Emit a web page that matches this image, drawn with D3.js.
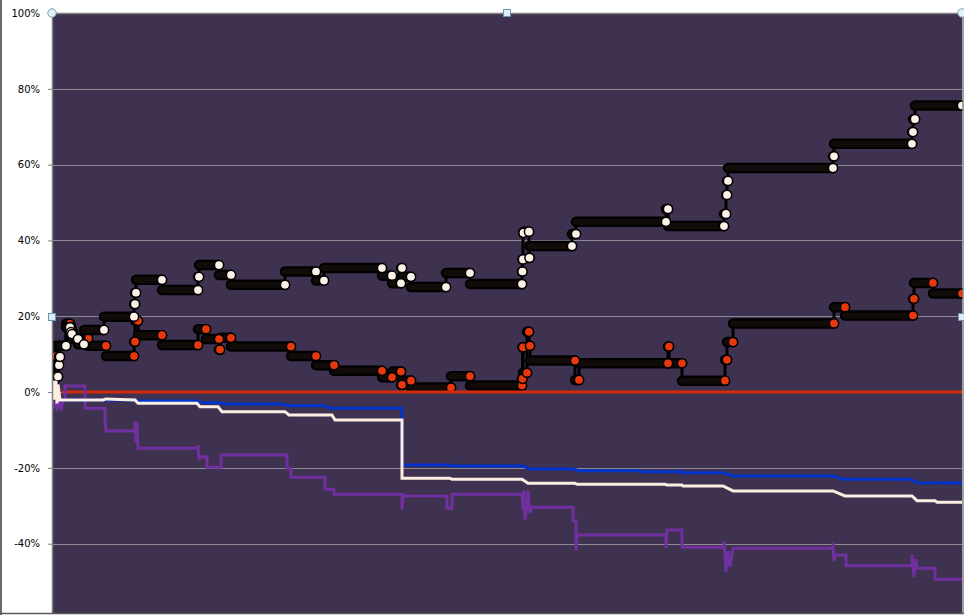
<!DOCTYPE html>
<html><head><meta charset="utf-8">
<script src="https://cdn.jsdelivr.net/npm/d3@7"></script>
<style>html,body{margin:0;padding:0;background:#fff;overflow:hidden}</style>
</head><body>
<svg id="c" width="964" height="615"></svg>
<script>
// ---- data (x = time index 0..910, y = percent) ----
const yTicks = [100, 80, 60, 40, 20, 0, -20, -40];
const xEnd = 910;

// step series with markers: [start, level]
const whiteSteps = [[0,0],[1,4.1],[6,7.1],[7,9.3],[8,12.2],[14,17.1],[18,15.8],[19,15.3],[20,14.0],[26,12.6],[32,16.4],[52,19.9],[82,23.2],[83,26.2],[84,29.6],[110,26.9],[146,30.4],[147,33.5],[167,30.9],[179,28.3],[233,31.8],[264,29.4],[272,32.7],[330,30.7],[340,28.7],[349,32.7],[350,30.4],[359,27.7],[394,31.4],[418,28.5],[470,31.8],[470.5,35.0],[471,42.0],[471.5,42.3],[477,35.4],[477.5,38.5],[520,41.7],[524,44.9],[614,48.3],[616,43.8],[672,47.0],[674,52.0],[675,55.7],[676,59.1],[781,62.2],[782,65.5],[860,68.6],[861,72.0],[863,75.6]];
const redSteps = [[0,0],[1,3],[2,9.5],[4,12.2],[14,18.0],[18,17.2],[19,16.3],[20,15.5],[21,14.2],[36,12.2],[54,9.5],[82,13.3],[83,18.8],[86,15.0],[110,12.4],[146,16.6],[154,14.0],[167,11.2],[168,14.3],[179,12.0],[239,9.5],[264,7.1],[282,5.6],[330,3.9],[340,5.4],[349,1.9],[350,3.0],[359,1.2],[399,4.2],[418,1.7],[470,3.5],[470.5,11.8],[471,5.1],[475,15.9],[477,12.2],[478,8.3],[523,3.2],[527,7.6],[616,12.0],[617,7.6],[630,3.0],[673,8.5],[675,13.2],[681,18.1],[782,22.4],[793,20.2],[861,24.6],[862,28.8],[881,26.0]];

// plain lines: [x, value]
const blueLine = [[0,0],[4,-1.5],[8,-2.1],[83,-2.1],[86,-2.35],[145,-2.35],[147,-2.8],[168,-2.8],[171,-3.14],[232,-3.14],[235,-3.59],[272,-3.59],[278,-4.27],[350,-4.27],[350,-19.23],[398,-19.23],[400,-19.49],[471,-19.49],[477,-20.28],[521,-20.28],[527,-20.73],[588,-20.73],[590,-21.0],[630,-21.0],[631,-21.26],[671,-21.26],[681,-22.13],[781,-22.13],[791,-23.0],[858,-23.0],[865,-23.9],[910,-24.0]];
const creamLine = [[0,0],[1,3],[2,-2],[4,3],[5,-3],[6,2],[8,-2.1],[51,-2.1],[54,-1.8],[83,-2.1],[86,-2.95],[145,-2.95],[148,-3.85],[166,-3.85],[170,-5.17],[233,-5.17],[237,-6.04],[280,-6.04],[283,-7.36],[350,-7.36],[350,-22.74],[398,-22.74],[400,-23.0],[470,-23.0],[476,-24.06],[523,-24.06],[525,-24.32],[613,-24.32],[615,-24.5],[630,-24.5],[631,-24.77],[671,-24.77],[681,-26.09],[781,-26.09],[793,-27.41],[860,-27.41],[865,-28.65],[883,-28.65],[885,-29.07],[910,-29.07]];
const purpleLine = [[0,-1],[1,-4],[3,-3],[5,-4.3],[8,-2],[9,-5],[11,-2],[13,-2],[13,1.61],[33,1.61],[33,-4.27],[53,-4.27],[53,-7.81],[54,-10.26],[83,-10.26],[83,-7.81],[84,-13.43],[85,-8],[86,-14.82],[146,-14.82],[146,-13.95],[147,-17.91],[148,-17.04],[155,-17.04],[155,-19.84],[169,-19.84],[169,-16.59],[235,-16.59],[235,-20.1],[239,-20.1],[239,-22.47],[273,-22.47],[273,-25.64],[282,-25.64],[282,-26.96],[350,-26.96],[350,-31.1],[351,-27.41],[395,-27.41],[395,-30.65],[400,-30.65],[400,-26.96],[470,-26.96],[471,-31],[472,-26],[473,-33.7],[475,-30],[476,-26],[478,-32],[480,-30.39],[521,-30.39],[521,-33.92],[524,-33.92],[524,-41.84],[525,-38.22],[526,-37.69],[614,-37.69],[614,-41.12],[615,-36.38],[630,-36.38],[630,-40.94],[672,-40.94],[672,-39.46],[674,-47.38],[676,-42],[678,-46],[681,-41.2],[781,-41.2],[781,-39.73],[782,-44.47],[783,-42.97],[794,-42.97],[794,-45.79],[860,-45.79],[860,-42.97],[862,-48.77],[864,-44],[865,-46.48],[883,-46.48],[883,-49.38],[910,-49.38]];
const zeroLine = [[10,0],[910,0]];

// ---- drawing ----
const svg = d3.select('#c');
const L = 52, R = 962, T = 13, B = 613;
const x = d3.scaleLinear().domain([0, xEnd]).range([L, R]);
const y = d3.scaleLinear().domain([-60, 100]).range([619.5, T]);

svg.append('rect').attr('width', 964).attr('height', 615).attr('fill', '#fff');
svg.append('defs').append('clipPath').attr('id', 'clip')
  .append('rect').attr('x', L).attr('y', T).attr('width', R - L + 1).attr('height', B - T);

svg.append('rect').attr('x', L).attr('y', T).attr('width', R - L).attr('height', B - T).attr('fill', '#3f3150');

// gridlines
svg.append('g').selectAll('line').data(yTicks.filter(d => d !== 100)).join('line')
  .attr('x1', L).attr('x2', R).attr('y1', d => Math.round(y(d)) + 0.5).attr('y2', d => Math.round(y(d)) + 0.5)
  .attr('stroke', '#8e8a94').attr('stroke-width', 1);

// y axis
const yAxis = d3.axisLeft(y).tickValues(yTicks).tickFormat(d => d + '%').tickSize(4).tickPadding(8);
const ga = svg.append('g').attr('transform', `translate(${L},0)`).call(yAxis);
ga.select('.domain').remove();
ga.selectAll('.tick line').attr('stroke', '#808080');
ga.selectAll('.tick text').attr('font-family', 'DejaVu Sans, Verdana, sans-serif').attr('font-size', 10).attr('fill', '#000');

const plot = svg.append('g').attr('clip-path', 'url(#clip)');

function drawSteps(steps, dotFill) {
  const g = plot.append('g');
  const levels = steps.map((d, i) => ({
    x0: d[0], x1: i < steps.length - 1 ? steps[i + 1][0] : xEnd,
    v: d[1], vNext: i < steps.length - 1 ? steps[i + 1][1] : null
  }));
  g.selectAll(null).data(levels.filter(l => l.vNext !== null)).join('line')
    .attr('x1', l => x(l.x1)).attr('x2', l => x(l.x1))
    .attr('y1', l => y(l.v)).attr('y2', l => y(l.vNext))
    .attr('stroke', '#000').attr('stroke-width', 3);
  g.selectAll(null).data(levels).join('line')
    .attr('x1', l => x(l.x0)).attr('x2', l => x(l.x1))
    .attr('y1', l => y(l.v)).attr('y2', l => y(l.v))
    .attr('stroke', '#000').attr('stroke-width', 10.5).attr('stroke-linecap', 'round');
  g.selectAll(null).data(levels).join('line')
    .attr('x1', l => x(l.x0)).attr('x2', l => x(l.x1))
    .attr('y1', l => y(l.v)).attr('y2', l => y(l.v))
    .attr('stroke', '#110c0a').attr('stroke-width', 6).attr('stroke-linecap', 'round');
  g.selectAll(null).data(levels).join('circle')
    .attr('cx', l => x(l.x1)).attr('cy', l => y(l.v)).attr('r', 4.6)
    .attr('fill', dotFill).attr('stroke', '#000').attr('stroke-width', 1.5);
}
drawSteps(redSteps, '#e8380e');
drawSteps(whiteSteps, '#fdf0e6');

const line = d3.line().x(d => x(d[0])).y(d => y(d[1]));
function drawLine(data, color) {
  plot.append('path').datum(data).attr('d', line).attr('fill', 'none')
    .attr('stroke', color).attr('stroke-width', 3).attr('stroke-linejoin', 'miter');
}
drawLine(zeroLine, '#d42b0b');
drawLine(purpleLine, '#7030a0');
drawLine(blueLine, '#0033cc');
drawLine(creamLine, '#fdeee2');

// plot border
svg.append('line').attr('x1', L).attr('x2', R + 1).attr('y1', T + 0.5).attr('y2', T + 0.5).attr('stroke', '#808080').attr('stroke-width', 1.5);
svg.append('line').attr('x1', L + 0.5).attr('x2', L + 0.5).attr('y1', T).attr('y2', B).attr('stroke', '#808080').attr('stroke-width', 1.5);
svg.append('line').attr('x1', R + 1).attr('x2', R + 1).attr('y1', T).attr('y2', B).attr('stroke', '#808080').attr('stroke-width', 1.5);
// chart border
svg.append('line').attr('x1', 1).attr('x2', 1).attr('y1', 0).attr('y2', 615).attr('stroke', '#6b6b6b').attr('stroke-width', 2);
svg.append('line').attr('x1', 0).attr('x2', 964).attr('y1', 613.5).attr('y2', 613.5).attr('stroke', '#5a5a5a').attr('stroke-width', 1.5);

// selection handles
const handles = [
  {t: 'c', px: L, py: T}, {t: 'c', px: R, py: T},
  {t: 's', px: (L + R) / 2, py: T}, {t: 's', px: L, py: (T + B) / 2 + 4}, {t: 's', px: R, py: (T + B) / 2 + 4}
];
handles.forEach(h => {
  if (h.t === 'c') svg.append('circle').attr('cx', h.px).attr('cy', h.py).attr('r', 4.2).attr('fill', '#e4f1f7').attr('stroke', '#7b9db3').attr('stroke-width', 1);
  else svg.append('rect').attr('x', h.px - 3.5).attr('y', h.py - 3.5).attr('width', 7).attr('height', 7).attr('fill', '#d9ecf8').attr('stroke', '#6f94b0').attr('stroke-width', 1);
});
</script>
</body></html>
